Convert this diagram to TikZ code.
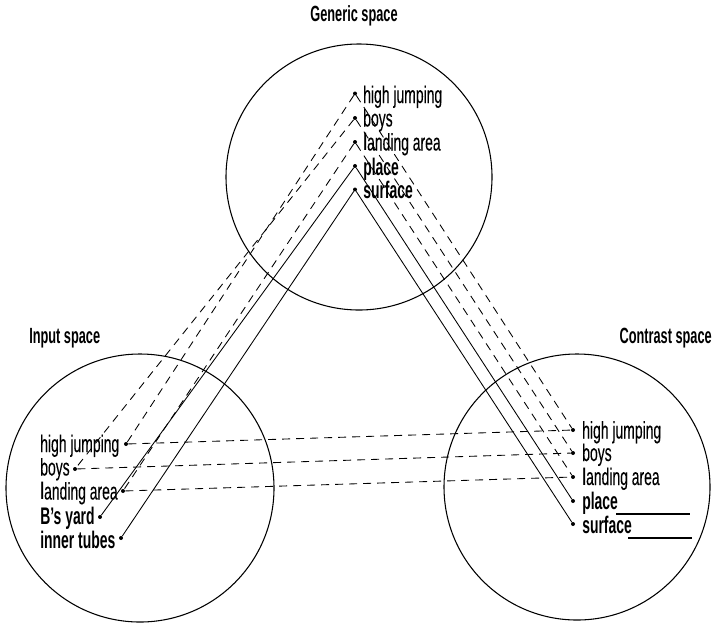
\documentclass[tikz,border=0pt]{standalone}
\usepackage{fontspec}
\setmainfont{Liberation Sans}[FakeStretch=0.58, UprightFeatures={FakeBold=0.15}]
\begin{document}
\begin{tikzpicture}[x=0.75pt,y=-0.75pt,
  lbl/.style={anchor=base west, inner sep=0pt, font=\fontsize{18}{20}\selectfont},
  ttl/.style={inner sep=0pt, font=\fontsize{16.5}{18}\selectfont\bfseries},
  dot/.style={circle, fill, inner sep=0pt, minimum size=3pt},
  spacecircle/.style={circle, draw, line width=0.8pt, inner sep=0pt, minimum size=#1},
  dashline/.style={line width=0.65pt, dash pattern=on 6pt off 4.5pt},
  solidline/.style={line width=0.65pt},
  under/.style={line width=1.1pt}]
\useasboundingbox (0,0) rectangle (713,622);

% circles
\node[spacecircle=199.5pt] (G) at (359,177) {};
\node[spacecircle=201pt]   (I) at (140,488) {};
\node[spacecircle=199.5pt] (C) at (577,487) {};

% titles
\node[ttl, anchor=base] (Gt) at (354,21) {Generic space};
\node[ttl, anchor=base west] (It) at (29,343) {\textbf{I}nput space};
\node[ttl, anchor=base east] (Ct) at (712,343) {Contrast space};

% generic space
\node[dot] (gHJ) at (355,93.5) {};
\node[dot] (gBO) at (355,118) {};
\node[dot] (gLA) at (355,142) {};
\node[dot] (gPL) at (355,166) {};
\node[dot] (gSU) at (355,189.5) {};
\node[lbl] (gHJt) at (363,103) {high jumping};
\node[lbl] (gBOt) at (363,126.5) {boys};
\node[lbl] (gLAt) at (363,150.5) {\textbf{l}anding area};
\node[lbl] (gPLt) at (363,175) {\textbf{place}};
\node[lbl] (gSUt) at (363,198.5) {\textbf{surface}};

% input space
\node[dot] (iHJ) at (126,444) {};
\node[dot] (iBO) at (75,469) {};
\node[dot] (iLA) at (123,491) {};
\node[dot] (iBY) at (100,517) {};
\node[dot] (iIT) at (121,538) {};
\node[lbl] (iHJt) at (40,452) {high jumping};
\node[lbl] (iBOt) at (40,475.5) {boys};
\node[lbl] (iLAt) at (40,499.5) {\textbf{l}anding area};
\node[lbl] (iBYt) at (40,524) {\textbf{B’s yard}};
\node[lbl] (iITt) at (40,548) {\textbf{inner tubes}};

% contrast space
\node[dot] (cHJ) at (573,430) {};
\node[dot] (cBO) at (573,453) {};
\node[dot] (cLA) at (573,477) {};
\node[dot] (cPL) at (573,501) {};
\node[dot] (cSU) at (573,524) {};
\node[lbl] (cHJt) at (582,438.5) {high jumping};
\node[lbl] (cBOt) at (582,461) {boys};
\node[lbl] (cLAt) at (582,485) {\textbf{l}anding area};
\node[lbl] (cPLt) at (582,509.5) {\textbf{place}};
\node[lbl] (cSUt) at (582,533.5) {\textbf{surface}};
\coordinate (uPa) at (616,514);
\coordinate (uPb) at (690,514);
\coordinate (uSa) at (628,538);
\coordinate (uSb) at (692,538);
\draw[under] (uPa) -- (uPb);
\draw[under] (uSa) -- (uSb);

% generic -> input
\draw[dashline] (gHJ) -- (iHJ);
\draw[dashline] (gBO) -- (iBO);
\draw[dashline] (gLA) -- (iLA);
\draw[solidline] (gPL) -- (iBY);
\draw[solidline] (gSU) -- (iIT);

% generic -> contrast
\draw[dashline] (gHJ) -- (cHJ);
\draw[dashline] (gBO) -- (cBO);
\draw[dashline] (gLA) -- (cLA);
\draw[solidline] (gPL) -- (cPL);
\draw[solidline] (gSU) -- (cSU);

% input -> contrast
\draw[dashline] (iHJ) -- (cHJ);
\draw[dashline] (iBO) -- (cBO);
\draw[dashline] (iLA) -- (cLA);
\end{tikzpicture}
\end{document}
